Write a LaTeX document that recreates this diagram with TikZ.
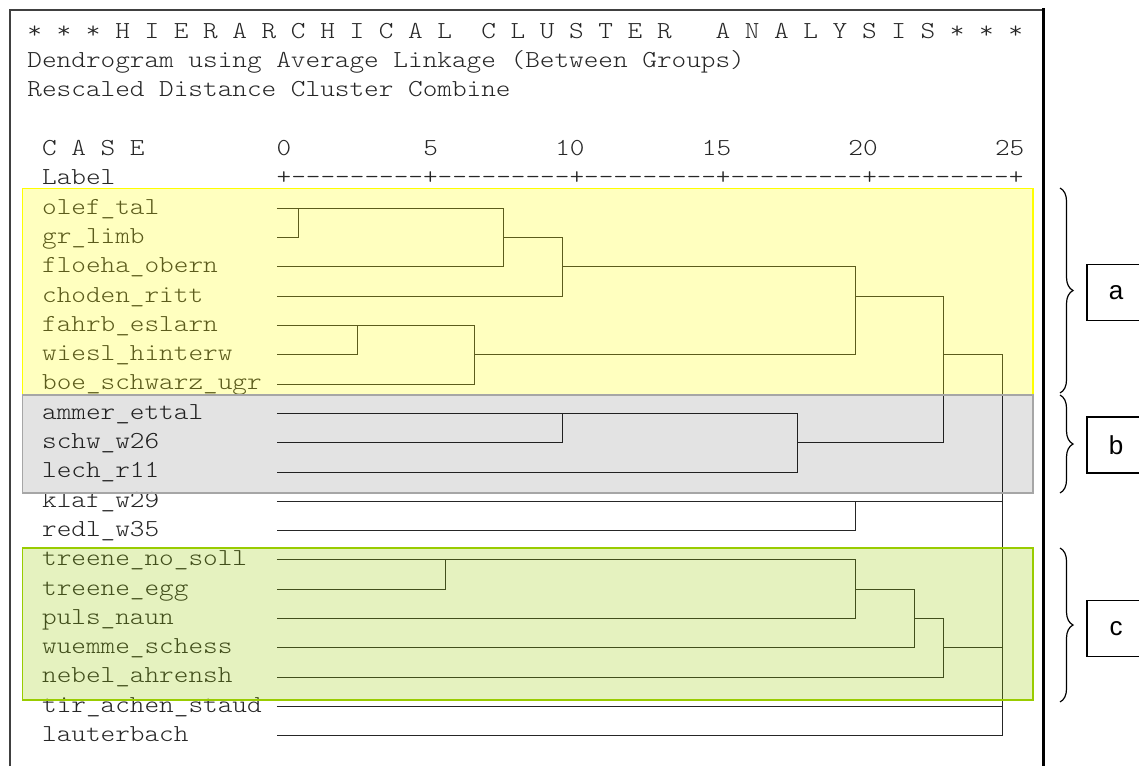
\documentclass[tikz,border=0pt]{standalone}
\usepackage{fontspec}
\setmonofont{lmmonolt10-regular.otf}[FakeStretch=1.143]
\newfontfamily\tagfont{Liberation Sans}
\usepackage{tikz}
\usetikzlibrary{decorations.pathreplacing}
\definecolor{framegray}{HTML}{404040}
\definecolor{bandyellow}{HTML}{FFFF00}
\definecolor{bandgreen}{HTML}{99CC00}
\definecolor{bandgray}{HTML}{A6A6A6}

\begin{document}
\begin{tikzpicture}[x=1pt, y=-1pt,
    casetxt/.style={anchor=base west, inner sep=0pt, outer sep=0pt, text=black!85,
      font=\ttfamily\frenchspacing\fontsize{24.4}{29.3}\selectfont},
    treeline/.style={line width=1pt, black!85},
    groupbrace/.style={decorate, decoration={brace, amplitude=13pt}, line width=1.2pt},
    tagbox/.style={draw, line width=1.5pt, minimum width=58pt, minimum height=56pt,
      inner sep=0pt, font=\tagfont\fontsize{26}{30}\selectfont}]
    \useasboundingbox (0,0) rectangle (1139,766);
    \clip (0,0) rectangle (1139,766);
    \fill[white] (0,0) rectangle (1139,766);

    % Output frame
    \draw[line width=2pt, framegray] (9.5,766) -- (9.5,9.5) -- (1043.5,9.5);
    \draw[line width=3.5pt] (1043.5,8) -- (1043.5,766);

    % Listing: one unit = one scale step, one row = one text line
    \begin{scope}[shift={(284,208.3)}, x=29.32pt, y=-29.3pt]
        \node[casetxt] (title) at (-8.75,-6+0.2)
            {*~*~*~H~I~E~R~A~R~C~H~I~C~A~L~~C~L~U~S~T~E~R~~~A~N~A~L~Y~S~I~S~*~*~*};
        \node[casetxt] (method) at (-8.75,-5+0.2) {Dendrogram using Average Linkage (Between Groups)};
        \node[casetxt] (rescale) at (-8.75,-4+0.2) {Rescaled Distance Cluster Combine};
        \node[casetxt] (casehead) at (-8.25,-2+0.2) {C A S E};
        \node[casetxt] (labelhead) at (-8.25,-1+0.2) {Label};
        \foreach \v in {0,5,...,25}
            \node[casetxt, anchor=base east] (tick\v) at (\v+0.25,-2+0.2) {\v};
        \node[casetxt] (ruler) at (-0.25,-1+0.2) {+---------+---------+---------+---------+---------+};

        % Cases
        \foreach \lbl [count=\r from 0] in {olef\_tal, gr\_limb, floeha\_obern, choden\_ritt,
                fahrb\_eslarn, wiesl\_hinterw, boe\_schwarz\_ugr, ammer\_ettal, schw\_w26,
                lech\_r11, klaf\_w29, redl\_w35, treene\_no\_soll, treene\_egg, puls\_naun,
                wuemme\_schess, nebel\_ahrensh, tir\_achen\_staud, lauterbach}
        {
            \node[casetxt] (case\r) at (-8.25,\r+0.2) {\lbl};
            \coordinate (s\r) at (-0.24,\r);
        }

        % Group a
        \draw[treeline] (s0) -- (7.5,0) -- (7.5,2) -- (s2);
        \draw[treeline] (0.5,0) -- (0.5,1) -- (s1);
        \draw[treeline] (7.5,1) -- (9.5,1) -- (9.5,3) -- (s3);
        \draw[treeline] (s4) -- (6.5,4) -- (6.5,6) -- (s6);
        \draw[treeline] (2.5,4) -- (2.5,5) -- (s5);
        \draw[treeline] (9.5,2) -- (19.5,2) -- (19.5,5) -- (6.5,5);

        % Group b
        \draw[treeline] (s7) -- (17.5,7) -- (17.5,9) -- (s9);
        \draw[treeline] (9.5,7) -- (9.5,8) -- (s8);
        \draw[treeline] (19.5,3) -- (22.5,3) -- (22.5,8) -- (17.5,8);
        \draw[treeline] (22.5,5) -- (24.5,5) -- (24.5,18) -- (s18);

        \draw[treeline] (s10) -- (24.5,10);
        \draw[treeline] (19.5,10) -- (19.5,11) -- (s11);

        % Group c
        \draw[treeline] (s12) -- (19.5,12) -- (19.5,14) -- (s14);
        \draw[treeline] (5.5,12) -- (5.5,13) -- (s13);
        \draw[treeline] (19.5,13) -- (21.5,13) -- (21.5,15) -- (s15);
        \draw[treeline] (21.5,14) -- (22.5,14) -- (22.5,16) -- (s16);
        \draw[treeline] (22.5,15) -- (24.5,15);
        \draw[treeline] (s17) -- (24.5,17);
    \end{scope}

    % Coloured bands over the listing
    \draw[line width=1.5pt, bandyellow, fill=bandyellow, fill opacity=0.25] (22.5,188.5) rectangle (1033,395);
    \draw[line width=1.5pt, bandgray, fill=black, fill opacity=0.11] (22.5,395) rectangle (1033,493);
    \draw[line width=1.5pt, bandgreen, fill=bandgreen, fill opacity=0.25] (22.5,548) rectangle (1033,700);

    % Braces and tags
    \draw[groupbrace] (1060,188) -- (1060,393);
    \draw[groupbrace] (1060,395) -- (1060,493);
    \draw[groupbrace] (1060,548) -- (1060,702);
    \node[tagbox] (taga) at (1116,292.5) {a};
    \node[tagbox] (tagb) at (1116,445) {b};
    \node[tagbox] (tagc) at (1116,628.5) {c};
\end{tikzpicture}
\end{document}
